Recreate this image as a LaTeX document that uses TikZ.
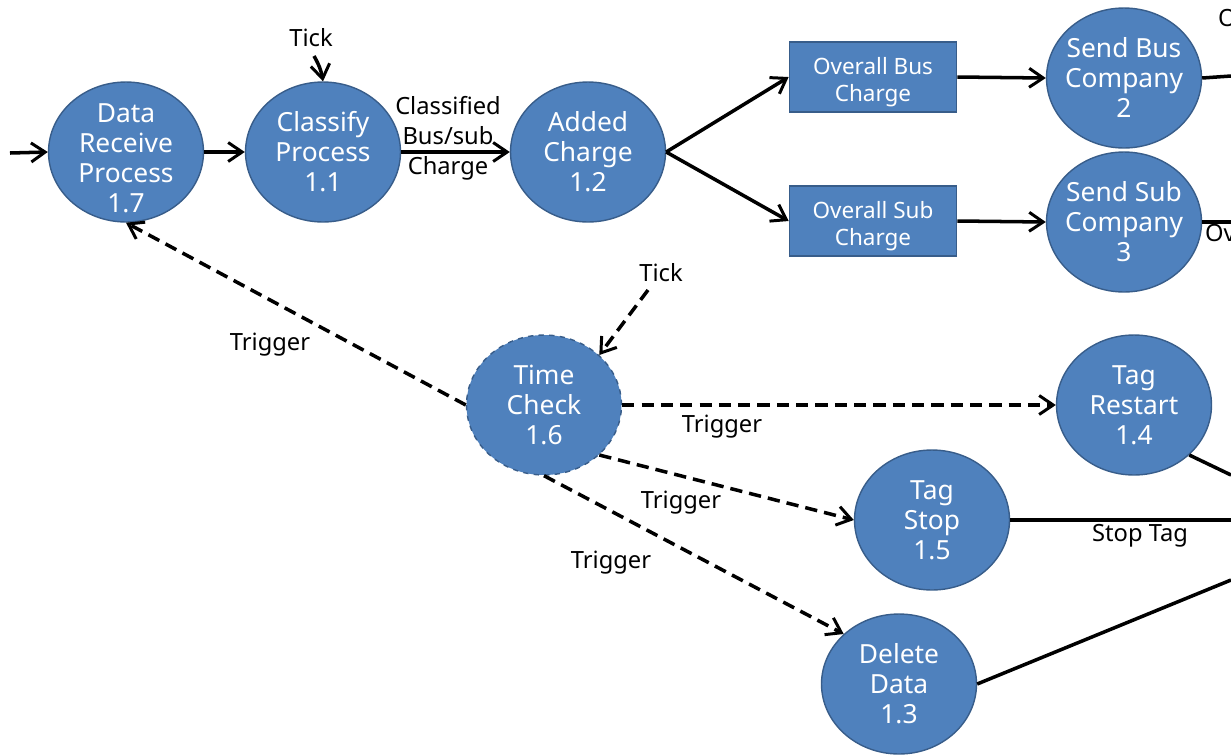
\documentclass[tikz,border=0pt]{standalone}
\usepackage{fontspec}
\setmainfont{Noto Sans}
\usetikzlibrary{shapes.geometric,arrows.meta}
\definecolor{procblue}{HTML}{4F81BD}
\definecolor{procedge}{HTML}{385D8A}
\newcommand\pbox[2][-5.4pt]{\smash{\raisebox{#1}{\makebox[2cm][c]{\begin{tabular}{@{}c@{}}#2\end{tabular}}}}}
\newcommand\storetext[1]{\smash{\raisebox{-6.1pt}{\begin{tabular}{@{}c@{}}#1\end{tabular}}}}
\begin{document}
\begin{tikzpicture}[x=0.02cm,y=-0.02cm,
  proc/.style={ellipse,fill=procblue,draw=procedge,line width=0.8pt,minimum width=3.1cm,minimum height=2.8cm,inner sep=0pt,text=white,align=center,font=\fontsize{15}{17}\selectfont},
  store/.style={rectangle,fill=procblue,draw=procedge,line width=1pt,minimum width=3.34cm,minimum height=1.4cm,inner sep=0pt,text=white,align=center,font=\fontsize{12.8}{15.4}\selectfont},
  flow/.style={line width=2pt,-{Straight Barb[length=2.8mm,width=3.8mm,line width=1.7pt]}},
  plain/.style={line width=2pt},
  trig/.style={flow,dash pattern=on 7pt off 4pt},
  lbl/.style={font=\fontsize{13.5}{17}\selectfont,text=black,align=center,inner sep=1pt}]
\useasboundingbox (0,0) rectangle (1231,755);
\clip (0,0) rectangle (1231,755);
% processes
\node[proc] (drp) at (126,152) {\pbox[-9pt]{Data\\Receive\\Process\\1.7}};
\node[proc] (cls) at (323,152) {\pbox{Classify\\Process\\1.1}};
\node[proc] (add) at (588,152) {\pbox{Added\\Charge\\1.2}};
\node[proc] (sbus) at (1124,78) {\pbox{Send Bus\\Company\\2}};
\node[proc] (ssub) at (1124,222) {\pbox{Send Sub\\Company\\3}};
\node[proc,dashed] (tchk) at (544,405) {\pbox{Time\\Check\\1.6}};
\node[proc] (trst) at (1134,405) {\pbox{Tag\\Restart\\1.4}};
\node[proc] (tstp) at (932,520) {\pbox{Tag\\Stop\\1.5}};
\node[proc] (ddel) at (899,684) {\pbox{Delete\\Data\\1.3}};
% stores
\node[store] (obus) at (873,77) {\storetext{Overall Bus\\Charge}};
\node[store] (osub) at (873,221) {\storetext{Overall Sub\\Charge}};
% free ends
\coordinate (in) at (10,153);
\coordinate (tick1) at (314,56);
\coordinate (tick2) at (648,290);
\coordinate (o1) at (1231,76);
\coordinate (o2) at (1231,222);
\coordinate (o3) at (1231,475);
\coordinate (o4) at (1231,520);
\coordinate (o5) at (1231,580);
% labels
\node[lbl] (tk1) at (311,38) {Tick};
\node[lbl] (tk2) at (661,273) {Tick};
\node[lbl] (ccl) at (448,138) {Classified\\Bus/sub\\Charge};
\node[lbl] (tr1) at (270,345) {Trigger};
\node[lbl] (tr2) at (722,427) {Trigger};
\node[lbl] (tr3) at (681,503) {Trigger};
\node[lbl] (tr4) at (611,563) {Trigger};
\node[lbl] (stag) at (1140,536) {Stop Tag};
\node[lbl,anchor=west] (ocut1) at (1216,18) {O};
\node[lbl,anchor=west] (ocut2) at (1203,233) {Ov};
% flows
\draw[flow] (in) -- (drp.west);
\draw[flow] (drp.east) -- (cls.west);
\draw[flow] (tick1) to[bend left=10] (cls.north);
\draw[flow] (cls.east) -- (add.west);
\draw[flow] (add.east) -- (obus.west);
\draw[flow] (add.east) -- (osub.west);
\draw[flow] (obus.east) -- (sbus.west);
\draw[flow] (osub.east) -- (ssub.west);
\draw[plain] (sbus.east) -- (o1);
\draw[plain] (ssub.east) -- (o2);
\draw[trig] (tchk.west) -- (drp.south);
\draw[trig] (tick2) -- (tchk.north east);
\draw[trig] (tchk.east) -- (trst.west);
\draw[trig] (tchk.south east) -- (tstp.west);
\draw[trig] (tchk.south) -- (ddel.north west);
\draw[plain] (trst.south east) -- (o3);
\draw[plain] (tstp.east) -- (o4);
\draw[plain] (ddel.east) -- (o5);
\end{tikzpicture}
\end{document}
